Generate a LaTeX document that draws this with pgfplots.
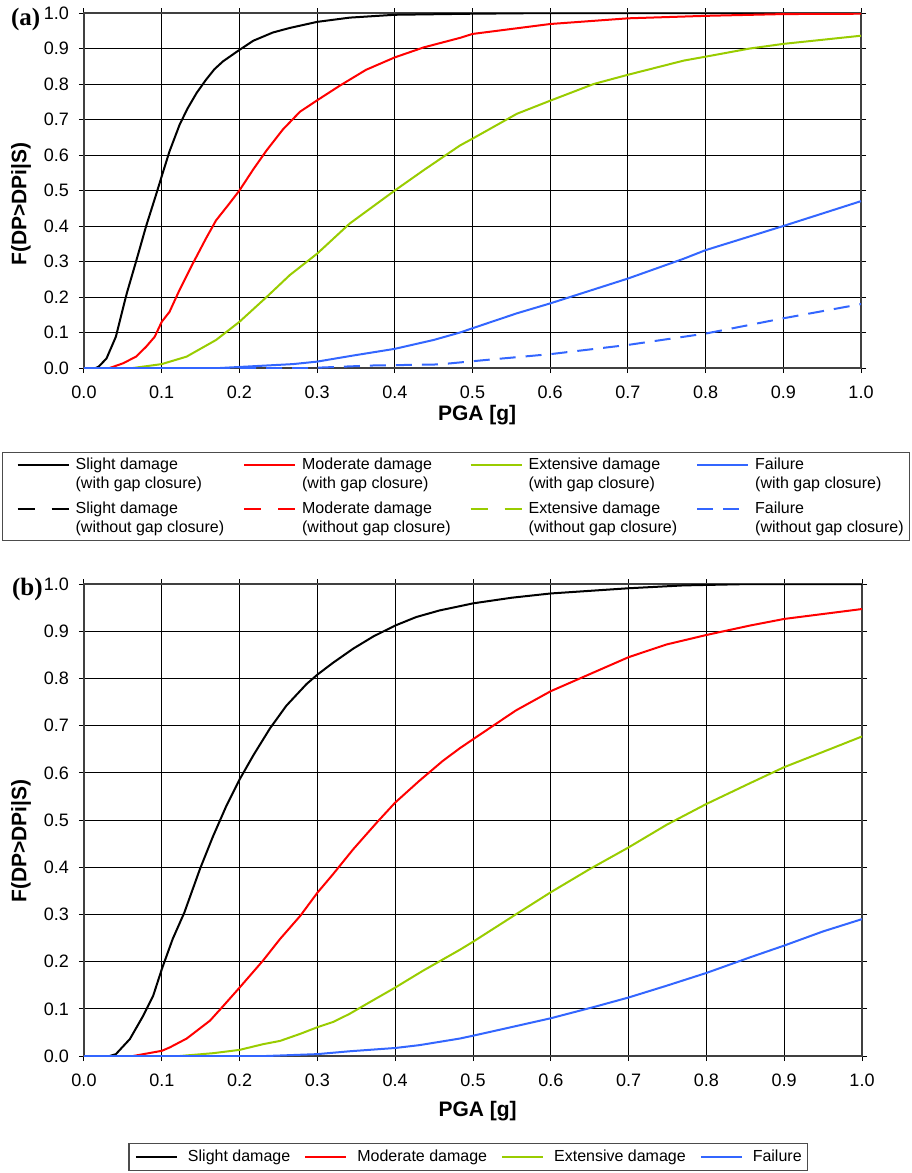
\documentclass[border=0pt]{standalone}
\usepackage{fontspec}
\setmainfont{Liberation Sans}
\newfontfamily\timesfont{Liberation Serif}
\usepackage{pgfplots}
\pgfplotsset{compat=1.18}

\definecolor{cRed}{HTML}{FF0000}
\definecolor{cGreen}{HTML}{99CC00}
\definecolor{cBlue}{HTML}{3366FF}

\pgfplotsset{
  fragility/.style={
    scale only axis,
    xmin=0, xmax=1, ymin=0, ymax=1,
    xtick={0,0.1,0.2,0.3,0.4,0.5,0.6,0.7,0.8,0.9,1.0},
    ytick={0,0.1,0.2,0.3,0.4,0.5,0.6,0.7,0.8,0.9,1.0},
    grid=major,
    major grid style={black, line width=0.5pt},
    axis line style={black!75, line width=0.6pt},
    tick align=outside,
    major tick length=2.5pt,
    tick style={black, line width=0.5pt},
    /pgf/number format/fixed,
    /pgf/number format/fixed zerofill,
    /pgf/number format/precision=1,
    /pgf/number format/assume math mode=true,
    tick label style={font=\fontsize{9}{10.8}\selectfont},
    yticklabel style={xshift=-1.5pt},
    xticklabel style={yshift=-3pt},
    label style={font=\bfseries\fontsize{10.5}{12}\selectfont},
    xlabel={PGA [g]},
    ylabel={F(DP>DPi|S)},
    every axis plot/.append style={line width=1pt},
  }
}

\begin{document}
\begin{tikzpicture}
\path[use as bounding box] (0pt,0pt) rectangle (455.5pt,-586.5pt);

% ---------- panel (a)
\begin{axis}[fragility,
    at={(42pt,-184pt)}, anchor=south west,
    width=388.5pt, height=177.5pt,
    xlabel style={at={(axis description cs:0.506,-0.132)}, anchor=center},
    ylabel style={at={(axis description cs:-0.081,0.462)}, anchor=center},
    legend columns=4,
    legend cell align=left,
    legend image code/.code={\path (0pt,0pt); \draw[#1] (4pt,5pt) -- (29.5pt,5pt);},
    legend style={at={(0.479,-0.2366)}, anchor=north,
        font=\fontsize{8}{9.75}\selectfont,
        draw=black!70, line width=0.6pt,
        inner xsep=3pt, inner ysep=2.5pt, row sep=5pt,
        nodes={inner sep=0pt, align=left},
        /tikz/every odd column/.append style={column sep=3pt},
        /tikz/every even column/.append style={column sep=5.5pt}},
]
\addplot[black] coordinates {
(0,0) (0.015,0) (0.019,0.004) (0.029,0.027) (0.041,0.088) (0.055,0.21) (0.067,0.30)
(0.080,0.40) (0.093,0.49) (0.1,0.54) (0.110,0.61) (0.123,0.685) (0.133,0.73) (0.145,0.775)
(0.157,0.812) (0.168,0.842) (0.179,0.864) (0.2,0.896) (0.218,0.922) (0.243,0.945) (0.265,0.958)
(0.3,0.975) (0.342,0.987) (0.4,0.995) (0.5,0.998) (0.6,1.0) (1.0,1.0)};
\addlegendentry{Slight damage\\(with gap closure)}
\addplot[cRed] coordinates {
(0,0) (0.033,0) (0.05,0.013) (0.067,0.032) (0.08,0.06) (0.091,0.088) (0.1,0.13)
(0.11,0.158) (0.123,0.22) (0.14,0.294) (0.157,0.365) (0.17,0.416) (0.187,0.463)
(0.2,0.50) (0.218,0.56) (0.235,0.613) (0.256,0.672) (0.278,0.722) (0.3,0.754)
(0.329,0.795) (0.363,0.84) (0.4,0.875) (0.437,0.903) (0.484,0.930) (0.5,0.941)
(0.6,0.969) (0.7,0.985) (0.8,0.992) (0.9,0.997) (1.0,0.998)};
\addlegendentry{Moderate damage\\(with gap closure)}
\addplot[cGreen] coordinates {
(0,0) (0.063,0) (0.1,0.011) (0.132,0.032) (0.17,0.079) (0.2,0.13) (0.235,0.20)
(0.265,0.262) (0.3,0.322) (0.342,0.407) (0.4,0.50) (0.437,0.557) (0.484,0.627)
(0.5,0.646) (0.557,0.716) (0.6,0.753) (0.656,0.80) (0.7,0.826) (0.772,0.866)
(0.8,0.877) (0.857,0.9) (0.9,0.913) (1.0,0.936)};
\addlegendentry{Extensive damage\\(with gap closure)}
\addplot[cBlue] coordinates {
(0,0) (0.175,0) (0.226,0.006) (0.269,0.011) (0.3,0.018) (0.346,0.035) (0.4,0.054)
(0.45,0.079) (0.484,0.10) (0.5,0.112) (0.557,0.154) (0.6,0.182) (0.7,0.252)
(0.772,0.308) (0.8,0.332) (0.9,0.40) (1.0,0.470)};
\addlegendentry{Failure\\(with gap closure)}
\addlegendimage{black, line width=1pt, dash pattern=on 8.5pt off 8.5pt}
\addlegendentry{Slight damage\\(without gap closure)}
\addlegendimage{cRed, line width=1pt, dash pattern=on 8.5pt off 8.5pt}
\addlegendentry{Moderate damage\\(without gap closure)}
\addlegendimage{cGreen, line width=1pt, dash pattern=on 8.5pt off 8.5pt}
\addlegendentry{Extensive damage\\(without gap closure)}
\addplot[cBlue, dash pattern=on 8pt off 5pt] coordinates {
(0,0) (0.29,0) (0.37,0.007) (0.455,0.01) (0.471,0.013) (0.514,0.022) (0.6,0.039)
(0.7,0.065) (0.8,0.097) (0.9,0.14) (1.0,0.18)};
\addlegendentry{Failure\\(without gap closure)}
\end{axis}

% ---------- panel (b)
\begin{axis}[fragility,
    at={(42pt,-528pt)}, anchor=south west,
    width=389pt, height=236pt,
    xlabel style={at={(axis description cs:0.506,-0.1165)}, anchor=center},
    ylabel style={at={(axis description cs:-0.081,0.455)}, anchor=center},
    legend columns=4,
    legend cell align=left,
    legend image code/.code={\draw[#1] (0pt,0pt) -- (20.5pt,0pt);},
    legend style={at={(0.494,-0.1843)}, anchor=north,
        font=\fontsize{8}{9.75}\selectfont,
        draw=black!70, line width=0.6pt,
        inner xsep=3pt, inner ysep=3pt,
        nodes={inner sep=0pt},
        /tikz/every odd column/.append style={column sep=5pt},
        /tikz/every even column/.append style={column sep=7pt}},
]
\addplot[black] coordinates {
(0,0) (0.033,0) (0.041,0.004) (0.059,0.036) (0.076,0.085) (0.089,0.128) (0.1,0.184)
(0.114,0.248) (0.129,0.304) (0.149,0.396) (0.166,0.466) (0.183,0.53) (0.2,0.586)
(0.218,0.638) (0.239,0.694) (0.26,0.742) (0.286,0.788) (0.3,0.808) (0.32,0.833)
(0.346,0.863) (0.372,0.889) (0.4,0.912) (0.427,0.93) (0.457,0.944) (0.483,0.953)
(0.5,0.959) (0.55,0.971) (0.6,0.980) (0.7,0.991) (0.77,0.997) (0.857,1.0) (1.0,1.0)};
\addlegendentry{Slight damage}
\addplot[cRed] coordinates {
(0,0) (0.063,0) (0.1,0.011) (0.11,0.018) (0.132,0.037) (0.162,0.075) (0.179,0.106)
(0.2,0.145) (0.23,0.202) (0.252,0.248) (0.278,0.297) (0.3,0.346) (0.32,0.385)
(0.346,0.438) (0.376,0.494) (0.4,0.537) (0.431,0.583) (0.461,0.625) (0.483,0.652)
(0.5,0.671) (0.555,0.732) (0.6,0.773) (0.65,0.809) (0.7,0.845) (0.749,0.872)
(0.8,0.892) (0.856,0.912) (0.9,0.926) (1.0,0.947)};
\addlegendentry{Moderate damage}
\addplot[cGreen] coordinates {
(0,0) (0.123,0) (0.166,0.006) (0.2,0.013) (0.23,0.025) (0.252,0.032) (0.278,0.047)
(0.3,0.061) (0.32,0.072) (0.341,0.089) (0.363,0.11) (0.4,0.145) (0.435,0.18)
(0.483,0.225) (0.5,0.242) (0.555,0.3) (0.6,0.347) (0.65,0.396) (0.7,0.442)
(0.749,0.49) (0.8,0.534) (0.856,0.578) (0.9,0.612) (0.954,0.647) (1.0,0.677)};
\addlegendentry{Extensive damage}
\addplot[cBlue] coordinates {
(0,0) (0.234,0) (0.3,0.004) (0.341,0.01) (0.4,0.017) (0.431,0.023) (0.483,0.037)
(0.5,0.043) (0.538,0.057) (0.6,0.080) (0.658,0.105) (0.7,0.124) (0.749,0.149)
(0.8,0.176) (0.856,0.209) (0.9,0.234) (0.95,0.264) (1.0,0.29)};
\addlegendentry{Failure}
\end{axis}

\node[anchor=base west, font=\timesfont\bfseries\fontsize{12.5}{14}\selectfont] at (2pt,-12.5pt) {(a)};
\node[anchor=base west, font=\timesfont\bfseries\fontsize{12.5}{14}\selectfont] at (2.5pt,-297.5pt) {(b)};
\end{tikzpicture}
\end{document}
